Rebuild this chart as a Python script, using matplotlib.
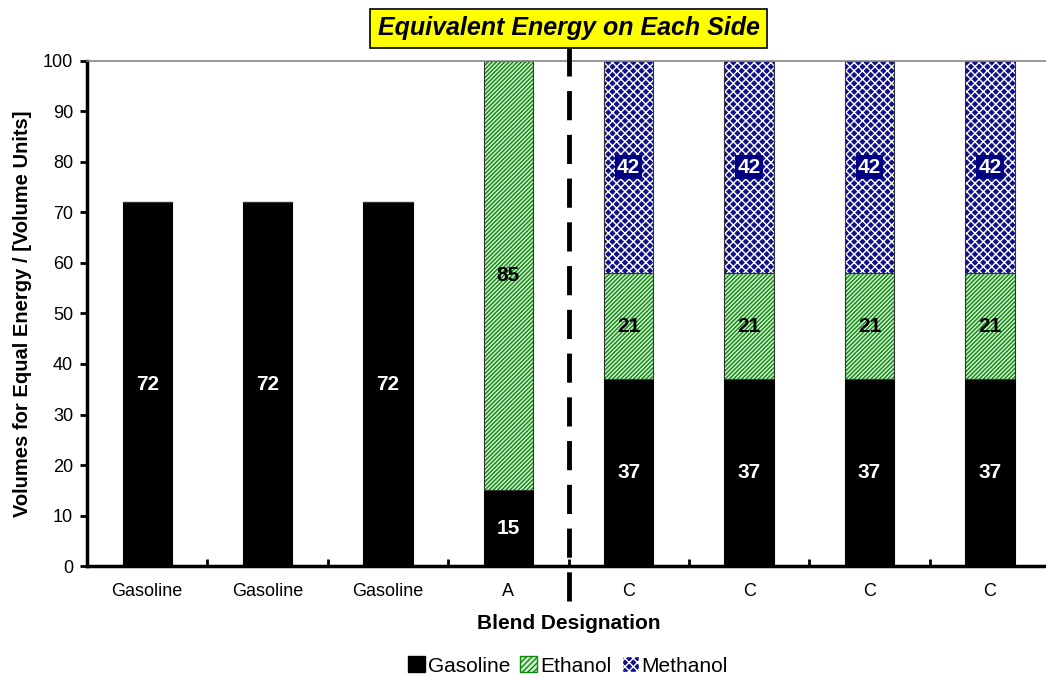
import matplotlib
matplotlib.use("Agg")
import matplotlib.pyplot as plt
from matplotlib.patches import Patch

plt.rcParams['font.family'] = ['Liberation Sans', 'DejaVu Sans']
plt.rcParams['hatch.linewidth'] = 1.0

categories = ["Gasoline", "Gasoline", "Gasoline", "A", "C", "C", "C", "C"]
gasoline = [72, 72, 72, 15, 37, 37, 37, 37]
ethanol = [0, 0, 0, 85, 21, 21, 21, 21]
methanol = [0, 0, 0, 0, 42, 42, 42, 42]
yticks = list(range(0, 101, 10))

fig = plt.figure(figsize=(10.46, 6.79), dpi=100)
ax = fig.add_axes([0.0832, 0.1664, 0.9207, 0.7438])

x = list(range(len(categories)))
w = 0.41
eth_bottom = gasoline
meth_bottom = [g + e for g, e in zip(gasoline, ethanol)]

GREEN = '#0a8a0a'
NAVY = '#10108a'

ax.bar(x, gasoline, w, color='black', edgecolor='black', linewidth=0.8)
ax.bar(x, ethanol, w, bottom=eth_bottom, color='#d4ecd4', edgecolor=GREEN, linewidth=0, hatch='////////')
ax.bar(x, ethanol, w, bottom=eth_bottom, color='none', edgecolor='#333333', linewidth=0.8)
ax.bar(x, methanol, w, bottom=meth_bottom, color=NAVY, edgecolor='white', linewidth=0, hatch='xxxx')
ax.bar(x, methanol, w, bottom=meth_bottom, color='none', edgecolor='#333333', linewidth=0.8)

for i in x:
    if gasoline[i] > 0:
        ax.text(i, gasoline[i] / 2, str(gasoline[i]), ha='center', va='center',
                color='white', fontsize=15, fontweight='bold')
    if ethanol[i] > 0:
        ax.text(i, eth_bottom[i] + ethanol[i] / 2, str(ethanol[i]), ha='center', va='center',
                color='black', fontsize=15, fontweight='bold')
    if methanol[i] > 0:
        ax.text(i, meth_bottom[i] + methanol[i] / 2, str(methanol[i]), ha='center', va='center',
                color='white', fontsize=15, fontweight='bold',
                bbox=dict(boxstyle='square,pad=0.1', facecolor='#000080', edgecolor='none'))

ax.set_xlim(-0.5, 7.5)
ax.set_ylim(0, 100)
ax.set_yticks(yticks)
ax.set_xticks(x)
ax.set_xticklabels(categories, fontsize=13)
ax.set_xticks([i + 0.5 for i in range(7)], minor=True)
ax.tick_params(axis='x', which='major', length=0, pad=12)
ax.tick_params(axis='x', which='minor', direction='in', length=5, width=2)
ax.tick_params(axis='y', direction='out', length=5, width=2, labelsize=13, pad=5)

for s in ['left', 'bottom']:
    ax.spines[s].set_linewidth(2.5)
ax.spines['right'].set_visible(False)
ax.spines['top'].set_color('#888888')
ax.spines['top'].set_linewidth(1.2)

ax.set_ylabel("Volumes for Equal Energy / [Volume Units]", fontsize=14.5, fontweight='bold', labelpad=8)
ax.set_xlabel("Blend Designation", fontsize=15, fontweight='bold', labelpad=10)

# dashed separator
ax.plot([3.5, 3.5], [-6.9, 102.6], color='black', linewidth=3.5, linestyle=(0, (6, 3)),
        clip_on=False, zorder=5)

# title box
ax.text(3.5, 106.5, "Equivalent Energy on Each Side", ha='center', va='center',
        fontsize=18, fontweight='bold', fontstyle='italic',
        bbox=dict(boxstyle='square,pad=0.3', facecolor='#ffff00', edgecolor='black', linewidth=1.2),
        zorder=6)

handles = [Patch(facecolor='black', edgecolor='black'),
           Patch(facecolor='#d4ecd4', edgecolor=GREEN, hatch='//////'),
           Patch(facecolor=NAVY, edgecolor='white', hatch='xxxx')]
fig.legend(handles, ["Gasoline", "Ethanol", "Methanol"], loc='center', bbox_to_anchor=(0.543, 0.019),
           ncol=3, frameon=False, fontsize=15, handlelength=0.8, handleheight=0.8,
           handletextpad=0.15, columnspacing=0.5)

fig.savefig("out.png", dpi=100)
